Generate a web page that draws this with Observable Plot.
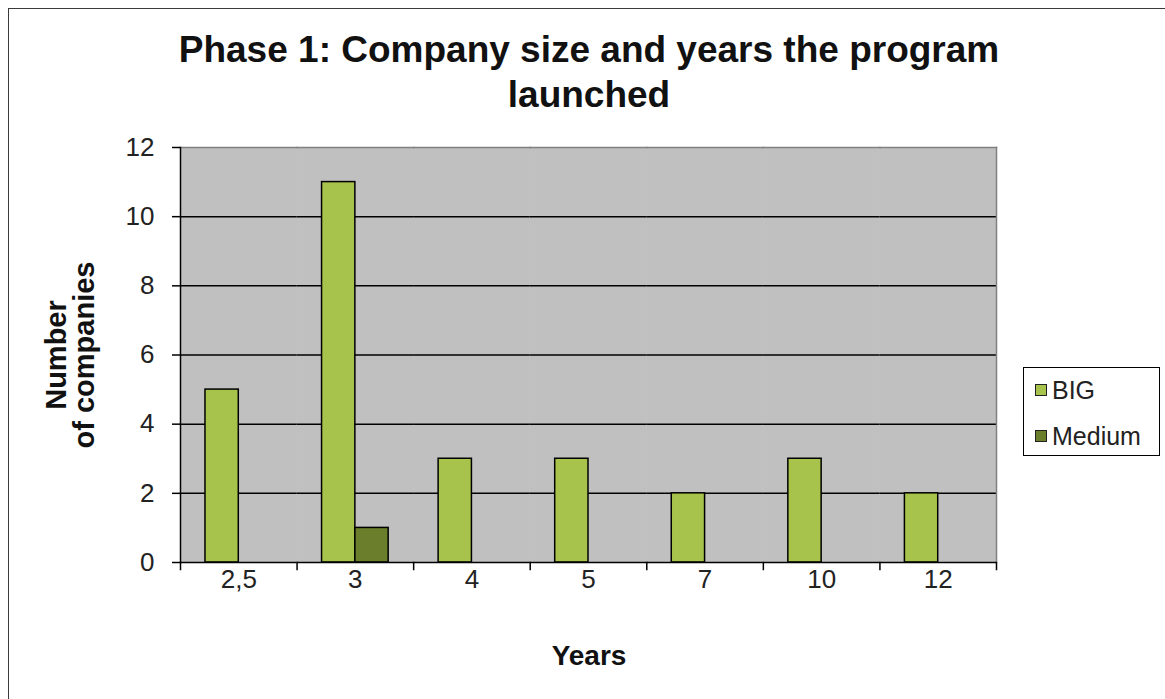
<!DOCTYPE html>
<html>
<head>
<meta charset="utf-8">
<script src="https://cdn.jsdelivr.net/npm/d3@7"></script>
<script src="https://cdn.jsdelivr.net/npm/@observablehq/plot@0.6"></script>
<style>
  html, body { margin: 0; padding: 0; background: #fff; overflow: hidden; width: 1165px; height: 699px; }
  body { position: relative; font-family: "Liberation Sans", Arial, sans-serif; }
  #border { position: absolute; left: 8px; top: 8px; width: 1200px; height: 800px; border: 1.5px solid #3a3a3a; box-sizing: border-box; }
  #title { position: absolute; left: 8px; width: 1162px; top: 27px; text-align: center; font-weight: bold; font-size: 37px; line-height: 45px; color: #111; white-space: nowrap; }
  #ylabel { position: absolute; left: 70px; top: 355px; width: 300px; transform: translate(-50%, -50%) rotate(-90deg); text-align: center; font-weight: bold; font-size: 29px; line-height: 28px; color: #111; }
  #xlabel { position: absolute; left: 489px; width: 200px; top: 638px; text-align: center; font-weight: bold; font-size: 28px; line-height: 36px; color: #111; }
  #chart { position: absolute; left: 0; top: 125px; }
  #legend { position: absolute; left: 1023px; top: 367px; width: 137px; height: 89px; border: 1.5px solid #000; box-sizing: border-box; background: #fff; }
  .item { position: absolute; left: 11px; font-size: 25px; line-height: 30px; color: #222; display: flex; align-items: center; }
  .sw { width: 10px; height: 10px; border: 1.5px solid #222; margin-right: 5px; }
</style>
</head>
<body>
<div id="border"></div>
<div id="title">Phase 1: Company size and years the program<br>launched</div>
<div id="ylabel">Number<br>of companies</div>
<div id="chart"></div>
<div id="xlabel">Years</div>
<div id="legend"></div>
<script>
const years = ["2,5", "3", "4", "5", "7", "10", "12"];
const seriesNames = ["BIG", "Medium"];
const bigValues = [5, 11, 3, 3, 2, 3, 2];
const mediumValues = [0, 1, 0, 0, 0, 0, 0];
const yTicks = [0, 2, 4, 6, 8, 10, 12];
const colors = ["#a8c34b", "#6b7e2c"];

const rows = [];
years.forEach((yr, i) => {
  rows.push({year: yr, series: "BIG", value: bigValues[i]});
  rows.push({year: yr, series: "Medium", value: mediumValues[i]});
});
const barsData = rows.filter(d => d.value > 0);

const W = 1165, H = 574, mT = 22, mB = 137, mL = 180, mR = 169;
const plotH = H - mT - mB;

const chart = Plot.plot({
  width: W,
  height: H,
  marginTop: mT,
  marginBottom: mB,
  marginLeft: mL,
  marginRight: mR,
  style: {fontFamily: "'Liberation Sans', Arial, sans-serif", color: "#000", background: "transparent"},
  fx: {domain: years, paddingInner: 0, paddingOuter: 0, round: false},
  x: {domain: seriesNames, paddingInner: 0, paddingOuter: 0.75, round: false, axis: null},
  y: {domain: [0, 12]},
  color: {domain: seriesNames, range: colors},
  marks: [
    Plot.frame({fill: "#c0c0c0", stroke: "#c0c0c0", strokeWidth: 1}),
    Plot.ruleY(yTicks.filter(v => v > 0 && v < 12), {stroke: "#000", strokeWidth: 1.5}),
    Plot.frame({anchor: "top", stroke: "#808080", strokeWidth: 1.5}),
    Plot.frame({anchor: "right", stroke: "#808080", strokeWidth: 1.5, fx: [years[years.length - 1]]}),
    Plot.barY(barsData, {fx: "year", x: "series", y: "value", fill: "series", stroke: "#000", strokeWidth: 1.5}),
    Plot.ruleY([0], {stroke: "#000", strokeWidth: 1.5}),
    Plot.frame({anchor: "left", stroke: "#000", strokeWidth: 1.5, fx: [years[0]]}),
    Plot.frame({anchor: "left", stroke: "#000", strokeWidth: 1.5, insetTop: plotH, insetBottom: -7}),
    Plot.frame({anchor: "right", stroke: "#000", strokeWidth: 1.5, insetTop: plotH, insetBottom: -7, fx: [years[years.length - 1]]}),
    Plot.axisY({ticks: yTicks, tickSize: 8, tickPadding: 18, fontSize: 26, label: null, fill: "#222", strokeWidth: 1.5}),
    Plot.axisFx({anchor: "bottom", tickSize: 0, tickPadding: 7, fontSize: 26, label: null, fill: "#222"})
  ]
});
document.getElementById("chart").appendChild(chart);

const legend = document.getElementById("legend");
seriesNames.forEach((name, i) => {
  const item = document.createElement("div");
  item.className = "item";
  item.style.top = (i === 0 ? 7 : 53) + "px";
  const sw = document.createElement("div");
  sw.className = "sw";
  sw.style.background = colors[i];
  item.appendChild(sw);
  const t = document.createElement("span");
  t.textContent = name;
  item.appendChild(t);
  legend.appendChild(item);
});
</script>
</body>
</html>
